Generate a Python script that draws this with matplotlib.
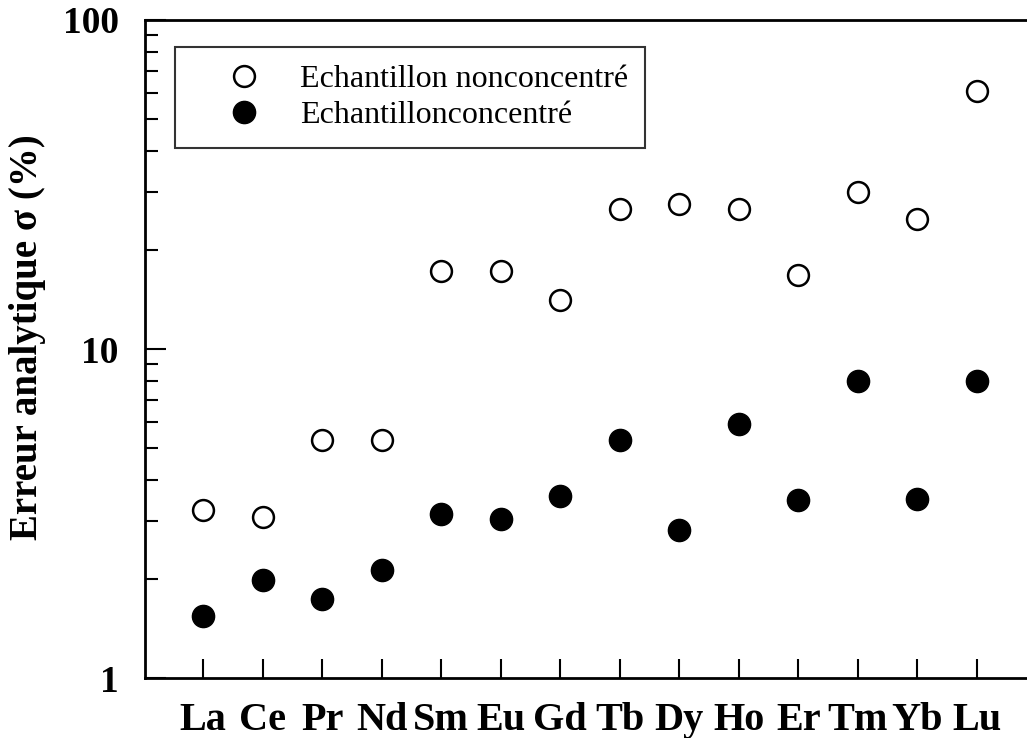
import matplotlib
matplotlib.use("Agg")
import matplotlib.pyplot as plt
from matplotlib.ticker import LogLocator, NullFormatter, FixedLocator

# rare earth elements and analytical error (%)
elements = ["La", "Ce", "Pr", "Nd", "Sm", "Eu", "Gd", "Tb", "Dy", "Ho", "Er", "Tm", "Yb", "Lu"]
err_non_conc = [3.24, 3.09, 5.29, 5.29, 17.3, 17.3, 14.1, 26.6, 27.6, 26.6, 16.8, 30.0, 24.8, 60.8]
err_conc = [1.54, 1.99, 1.74, 2.13, 3.15, 3.04, 3.57, 5.29, 2.82, 5.92, 3.48, 8.0, 3.50, 8.0]
y_ticks = [1, 10, 100]
y_tick_labels = ["1", "10", "100"]

plt.rcParams["font.family"] = ["Liberation Serif", "DejaVu Serif"]

fig = plt.figure(figsize=(10.27, 7.38), dpi=100)
ax = fig.add_axes([0.1412, 0.0813, 0.8588, 0.8916])

x = list(range(len(elements)))
ax.plot(x, err_non_conc, linestyle="none", marker="o", markersize=15,
        markerfacecolor="white", markeredgecolor="black", markeredgewidth=1.8,
        label="Echantillon nonconcentré")
ax.plot(x, err_conc, linestyle="none", marker="o", markersize=16,
        markerfacecolor="black", markeredgecolor="black",
        label="Echantillonconcentré")

ax.set_yscale("log")
ax.set_ylim(1, 100)
ax.set_xlim(-0.974, 13.84)

ax.yaxis.set_major_locator(FixedLocator(y_ticks))
ax.set_yticklabels(y_tick_labels, fontsize=27, fontweight="bold")
ax.yaxis.set_minor_locator(LogLocator(base=10, subs=range(2, 10)))
ax.yaxis.set_minor_formatter(NullFormatter())

ax.set_xticks(x)
ax.set_xticklabels(elements, fontsize=29, fontweight="bold")

ax.tick_params(axis="y", which="major", direction="in", length=15, width=1.5, pad=19)
ax.tick_params(axis="y", which="minor", direction="in", length=9, width=1.5)
ax.tick_params(axis="x", which="major", direction="in", length=14, width=1.5, pad=17)

ax.spines["right"].set_visible(False)
for side in ["left", "bottom", "top"]:
    ax.spines[side].set_linewidth(2)

ax.set_ylabel("Erreur analytique σ (%)", fontsize=28, fontweight="bold")
ax.yaxis.set_label_coords(-0.112, 0.518)

leg = ax.legend(loc="upper left", bbox_to_anchor=(0.034, 0.959), fontsize=23,
                frameon=True, fancybox=False, edgecolor="black",
                handletextpad=0.1, borderpad=0.55, labelspacing=0.22,
                borderaxespad=0, handlelength=3.25)
leg.get_frame().set_linewidth(1.5)

fig.savefig("out.png", dpi=100, facecolor="white")
